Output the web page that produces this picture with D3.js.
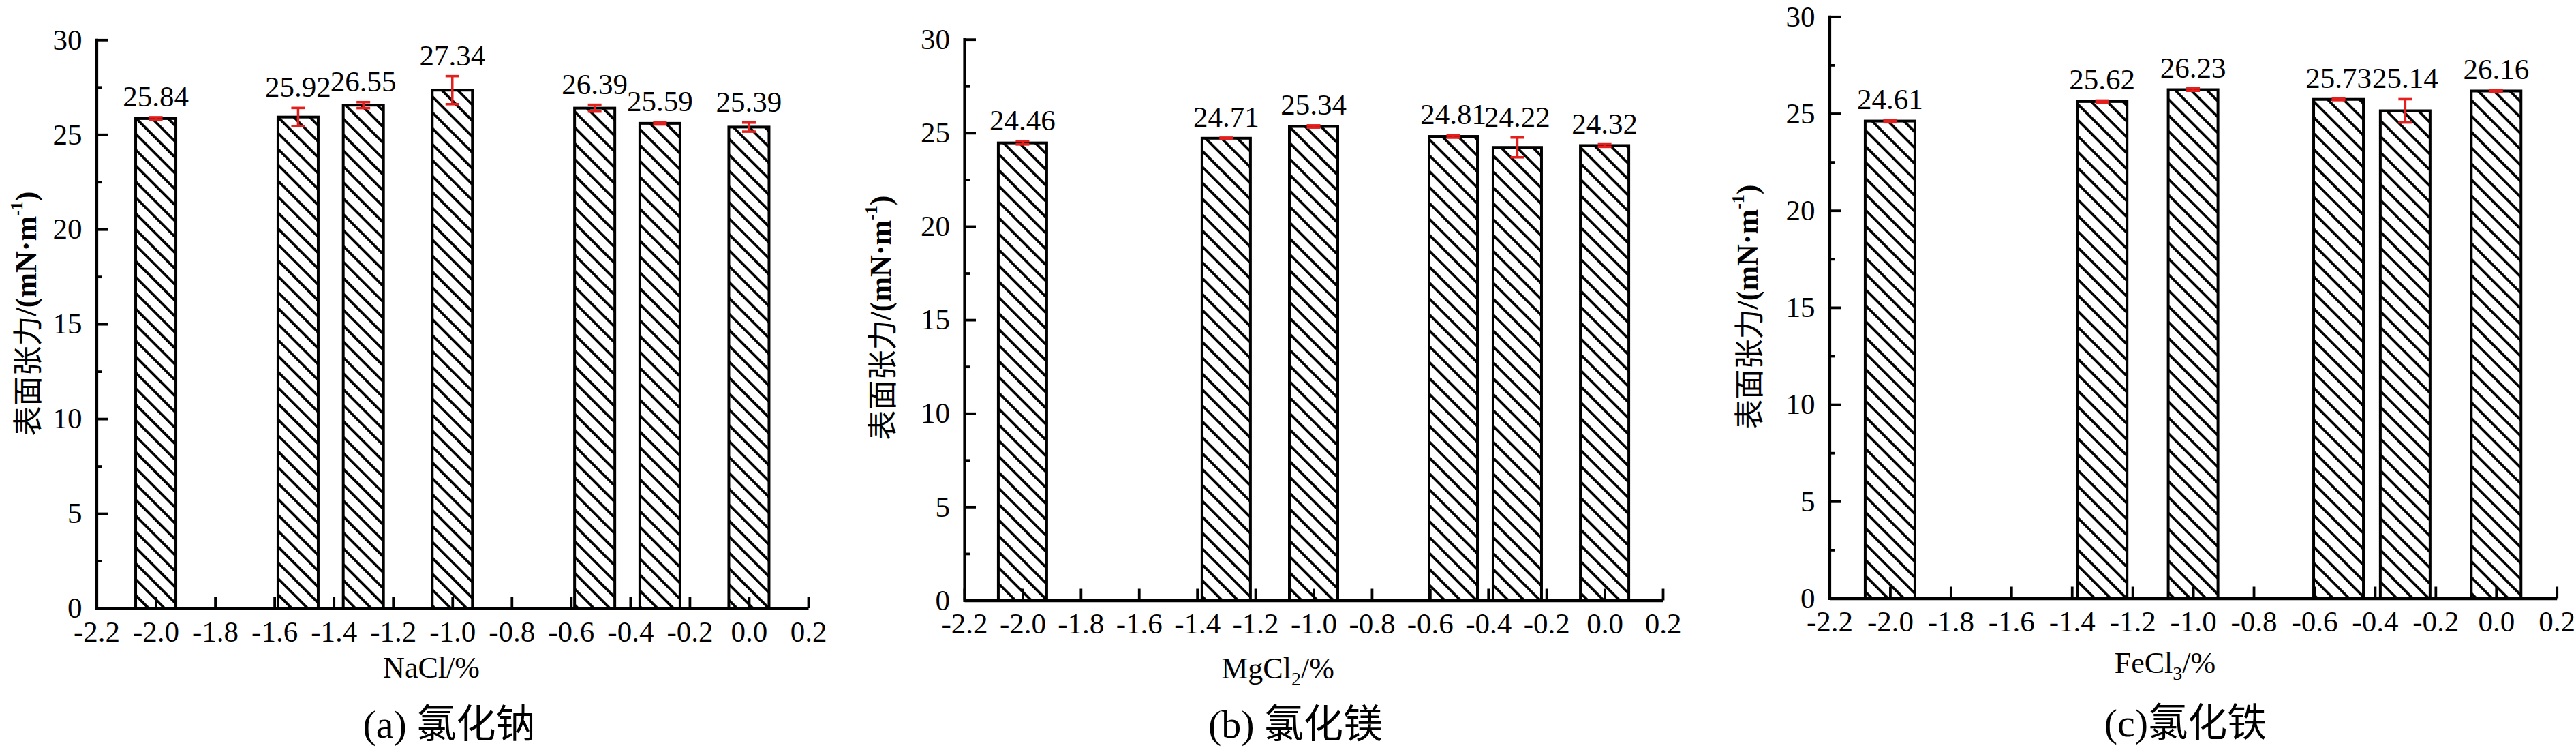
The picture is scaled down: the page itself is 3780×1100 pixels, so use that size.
<!DOCTYPE html>
<html>
<head>
<meta charset="utf-8">
<script src="https://cdn.jsdelivr.net/npm/d3@7"></script>
<style>
  html, body { margin: 0; padding: 0; background: #fff; }
  svg { display: block; }
</style>
</head>
<body>
<script>
// ---------------- DATA ----------------
const xTickValues = [-2.2, -2.0, -1.8, -1.6, -1.4, -1.2, -1.0, -0.8, -0.6, -0.4, -0.2, 0.0, 0.2];
const xTickLabels = ["-2.2", "-2.0", "-1.8", "-1.6", "-1.4", "-1.2", "-1.0", "-0.8", "-0.6", "-0.4", "-0.2", "0.0", "0.2"];
const yTickValues = [0, 5, 10, 15, 20, 25, 30];
const yTickLabels = ["0", "5", "10", "15", "20", "25", "30"];
const yMinorTickValues = [2.5, 7.5, 12.5, 17.5, 22.5, 27.5];

// (a) NaCl
const naclX   = [-2.0, -1.52, -1.30, -1.0, -0.52, -0.30, 0.0];
const naclY   = [25.84, 25.92, 26.55, 27.34, 26.39, 25.59, 25.39];
const naclErr = [0.07, 0.48, 0.16, 0.74, 0.18, 0.06, 0.24];

// (b) MgCl2
const mgclX   = [-2.0, -1.30, -1.0, -0.52, -0.30, 0.0];
const mgclY   = [24.46, 24.71, 25.34, 24.81, 24.22, 24.32];
const mgclErr = [0.08, 0.03, 0.06, 0.07, 0.53, 0.07];

// (c) FeCl3
const feclX   = [-2.0, -1.30, -1.0, -0.52, -0.30, 0.0];
const feclY   = [24.61, 25.62, 26.23, 25.73, 25.14, 26.16];
const feclErr = [0.06, 0.05, 0.06, 0.04, 0.60, 0.06];

const yTitleCJK = "表面张力";
const captions = ["(a) 氯化钠", "(b) 氯化镁", "(c)氯化铁"];
const xTitleParts = [["NaCl", "", "/%"], ["MgCl", "2", "/%"], ["FeCl", "3", "/%"]];

// ---------------- LAYOUT ----------------
const W = 3780, H = 1100;
const SERIF = "'Liberation Serif', 'Times New Roman', serif";
const CJK = "'Noto Sans CJK SC', sans-serif";
const RED = "#e3201e";

const layouts = [
  {x0: 141.5, x1: 1186,   y0: 892,   y1: 58.3, barW: 59, yTitleX: 38,   yTitleY: 460, xTitleX: 633,  xTitleY: 994, capX: 659,  capY: 1082},
  {x0: 1415,  x1: 2440,   y0: 880.5, y1: 57.7, barW: 71, yTitleX: 1292, yTitleY: 466, xTitleX: 1875, xTitleY: 995, capX: 1901, capY: 1082},
  {x0: 2684.5,x1: 3751.7, y0: 877.5, y1: 24.3, barW: 73, yTitleX: 2564, yTitleY: 450, xTitleX: 3177, xTitleY: 987, capX: 3207, capY: 1080}
];
const series = [
  {x: naclX, y: naclY, err: naclErr},
  {x: mgclX, y: mgclY, err: mgclErr},
  {x: feclX, y: feclY, err: feclErr}
];

const svg = d3.select("body").append("svg")
  .attr("width", W).attr("height", H)
  .attr("viewBox", `0 0 ${W} ${H}`);
svg.append("rect").attr("width", W).attr("height", H).attr("fill", "#fff");

const defs = svg.append("defs");
const pat = defs.append("pattern")
  .attr("id", "hatch")
  .attr("patternUnits", "userSpaceOnUse")
  .attr("width", 16.5).attr("height", 16.5)
  .attr("patternTransform", "rotate(-45)");
pat.append("rect").attr("width", 16.5).attr("height", 16.5).attr("fill", "#fff");
pat.append("rect").attr("x", 0).attr("width", 3.8).attr("height", 16.5).attr("fill", "#000");

series.forEach((s, pi) => {
  const L = layouts[pi];
  const g = svg.append("g");
  const xs = d3.scaleLinear().domain([xTickValues[0], xTickValues[xTickValues.length - 1]]).range([L.x0, L.x1]);
  const ys = d3.scaleLinear().domain([yTickValues[0], yTickValues[yTickValues.length - 1]]).range([L.y0, L.y1]);

  const data = s.x.map((xv, i) => ({x: xv, y: s.y[i], e: s.err[i]}));

  // bars
  g.selectAll("rect.bar").data(data).join("rect")
    .attr("class", "bar")
    .attr("x", d => xs(d.x) - L.barW / 2)
    .attr("y", d => ys(d.y))
    .attr("width", L.barW)
    .attr("height", d => ys(0) - ys(d.y))
    .attr("fill", "url(#hatch)")
    .attr("stroke", "#000")
    .attr("stroke-width", 4);

  // error bars
  const eg = g.selectAll("g.err").data(data).join("g").attr("class", "err")
    .attr("stroke", RED).attr("fill", "none");
  eg.append("line")
    .attr("x1", d => xs(d.x)).attr("x2", d => xs(d.x))
    .attr("y1", d => ys(d.y - d.e)).attr("y2", d => ys(d.y + d.e))
    .attr("stroke-width", 3.5);
  eg.append("line")
    .attr("x1", d => xs(d.x) - 10).attr("x2", d => xs(d.x) + 10)
    .attr("y1", d => ys(d.y + d.e)).attr("y2", d => ys(d.y + d.e))
    .attr("stroke-width", 3.6);
  eg.append("line")
    .attr("x1", d => xs(d.x) - 10).attr("x2", d => xs(d.x) + 10)
    .attr("y1", d => ys(d.y - d.e)).attr("y2", d => ys(d.y - d.e))
    .attr("stroke-width", 3.6);

  // value labels
  g.selectAll("text.val").data(data).join("text")
    .attr("class", "val")
    .attr("x", d => xs(d.x))
    .attr("y", d => ys(d.y + d.e) - 16)
    .attr("text-anchor", "middle")
    .attr("font-family", SERIF)
    .attr("font-size", 43)
    .attr("fill", "#000")
    .text(d => d.y.toFixed(2));

  // x axis
  const xAxis = d3.axisBottom(xs)
    .tickValues(xTickValues)
    .tickFormat((d, i) => xTickLabels[i])
    .tickSizeInner(-17).tickSizeOuter(0).tickPadding(18);
  const xg = g.append("g").attr("transform", `translate(0,${L.y0})`).call(xAxis);
  xg.select(".domain").attr("stroke-width", 4.5).attr("stroke", "#000");
  xg.selectAll(".tick line").attr("stroke-width", 3.8).attr("stroke", "#000");
  xg.selectAll(".tick text").attr("font-family", SERIF).attr("font-size", 43).attr("fill", "#000");

  // y axis (major)
  const yAxis = d3.axisLeft(ys)
    .tickValues(yTickValues)
    .tickFormat((d, i) => yTickLabels[i])
    .tickSizeInner(-17).tickSizeOuter(0).tickPadding(21);
  const yg = g.append("g").attr("transform", `translate(${L.x0},0)`).call(yAxis);
  yg.select(".domain").attr("stroke-width", 4.2).attr("stroke", "#000").attr("stroke-linecap", "square");
  yg.selectAll(".tick line").attr("stroke-width", 3.8).attr("stroke", "#000");
  yg.selectAll(".tick text").attr("font-family", SERIF).attr("font-size", 43).attr("fill", "#000");

  // y axis (minor)
  const yMinor = d3.axisLeft(ys).tickValues(yMinorTickValues).tickFormat("")
    .tickSizeInner(-8).tickSizeOuter(0);
  const ymg = g.append("g").attr("transform", `translate(${L.x0},0)`).call(yMinor);
  ymg.select(".domain").remove();
  ymg.selectAll(".tick line").attr("stroke-width", 3.8).attr("stroke", "#000");

  // y title
  const yt = g.append("text")
    .attr("transform", `translate(${L.yTitleX},${L.yTitleY}) rotate(-90)`)
    .attr("text-anchor", "middle")
    .attr("dominant-baseline", "central")
    .attr("font-size", 44)
    .attr("fill", "#000");
  yt.append("tspan").attr("font-family", CJK).text(yTitleCJK);
  yt.append("tspan").attr("font-family", SERIF).attr("font-weight", "bold").text("/(mN·m");
  yt.append("tspan").attr("font-family", SERIF).attr("font-weight", "bold").attr("font-size", 26).attr("dy", -14).text("-1");
  yt.append("tspan").attr("font-family", SERIF).attr("font-weight", "bold").attr("dy", 14).text(")");

  // x title
  const xp = xTitleParts[pi];
  const xt = g.append("text")
    .attr("x", L.xTitleX).attr("y", L.xTitleY)
    .attr("text-anchor", "middle")
    .attr("font-family", SERIF)
    .attr("font-size", 44)
    .attr("fill", "#000");
  xt.append("tspan").text(xp[0]);
  if (xp[1]) {
    xt.append("tspan").attr("font-size", 28).attr("dy", 10).text(xp[1]);
    xt.append("tspan").attr("dy", -10).text(xp[2]);
  } else {
    xt.append("tspan").text(xp[2]);
  }

  // caption
  const cap = captions[pi];
  const m = cap.match(/^(\([a-z]\)\s?)(.*)$/);
  const ct = g.append("text")
    .attr("x", L.capX).attr("y", L.capY)
    .attr("text-anchor", "middle")
    .attr("font-size", 58)
    .attr("fill", "#000");
  ct.append("tspan").attr("font-family", SERIF).text(m[1]);
  ct.append("tspan").attr("font-family", CJK).text(m[2]);
});
</script>
</body>
</html>
